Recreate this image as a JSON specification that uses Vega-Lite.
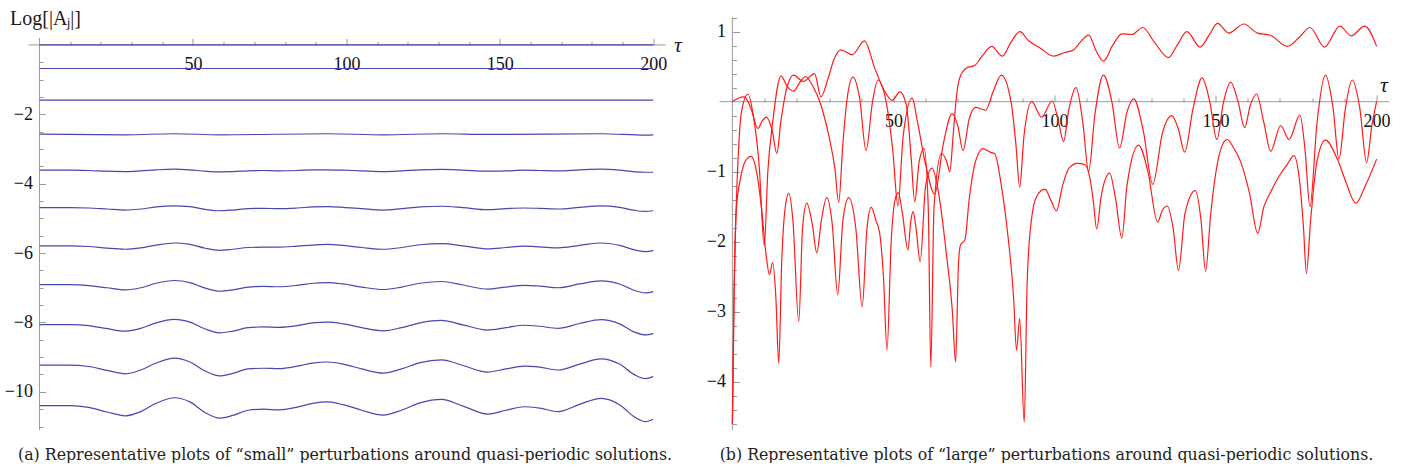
{
"$schema": "https://vega.github.io/schema/vega-lite/v6.json",
"padding": {"left": 3.5, "top": 8, "right": 5, "bottom": 0},
"background": "white",
"bounds": "flush",
"spacing": 54,
"config": {"view": {"stroke": null}, "font": "Liberation Serif",
  "axis": {"labelFont": "Liberation Serif", "labelFontSize": 18, "labelColor": "#111111", "tickColor": "#9a9a9a", "tickWidth": 1, "grid": false, "domain": false, "labelFlush": false, "labelOverlap": false, "labelBound": false}},
"datasets": {
"small": [
{"s":"j0","t":0,"v":0},{"s":"j0","t":200,"v":0},
{"s":"j1","t":0,"v":-0.68},{"s":"j1","t":200,"v":-0.68},
{"s":"j2","t":0,"v":-1.59},{"s":"j2","t":200,"v":-1.59},
{"s":"j3","t":0,"v":-2.57},{"s":"j3","t":28,"v":-2.59},{"s":"j3","t":44,"v":-2.56},{"s":"j3","t":58.7,"v":-2.59},{"s":"j3","t":94,"v":-2.56},{"s":"j3","t":112,"v":-2.59},{"s":"j3","t":131,"v":-2.56},{"s":"j3","t":146,"v":-2.58},{"s":"j3","t":183,"v":-2.56},{"s":"j3","t":197.5,"v":-2.6},{"s":"j3","t":200,"v":-2.59},
{"s":"j4","t":0,"v":-3.61},{"s":"j4","t":10,"v":-3.61},{"s":"j4","t":16,"v":-3.62},{"s":"j4","t":22,"v":-3.64},{"s":"j4","t":28,"v":-3.65},{"s":"j4","t":33,"v":-3.63},{"s":"j4","t":38,"v":-3.6},{"s":"j4","t":44,"v":-3.58},{"s":"j4","t":49,"v":-3.6},{"s":"j4","t":54,"v":-3.64},{"s":"j4","t":58.7,"v":-3.66},{"s":"j4","t":63,"v":-3.65},{"s":"j4","t":68,"v":-3.63},{"s":"j4","t":73,"v":-3.62},{"s":"j4","t":78,"v":-3.63},{"s":"j4","t":84,"v":-3.62},{"s":"j4","t":89,"v":-3.6},{"s":"j4","t":94,"v":-3.6},{"s":"j4","t":99,"v":-3.61},{"s":"j4","t":105,"v":-3.63},{"s":"j4","t":112,"v":-3.65},{"s":"j4","t":118,"v":-3.63},{"s":"j4","t":124,"v":-3.6},{"s":"j4","t":131,"v":-3.59},{"s":"j4","t":138,"v":-3.61},{"s":"j4","t":146,"v":-3.64},{"s":"j4","t":152,"v":-3.63},{"s":"j4","t":158,"v":-3.61},{"s":"j4","t":163,"v":-3.62},{"s":"j4","t":169,"v":-3.63},{"s":"j4","t":176,"v":-3.6},{"s":"j4","t":183,"v":-3.58},{"s":"j4","t":189,"v":-3.61},{"s":"j4","t":194,"v":-3.66},{"s":"j4","t":197.5,"v":-3.67},{"s":"j4","t":200,"v":-3.67},
{"s":"j5","t":0,"v":-4.69},{"s":"j5","t":10,"v":-4.69},{"s":"j5","t":16,"v":-4.7},{"s":"j5","t":22,"v":-4.73},{"s":"j5","t":28,"v":-4.76},{"s":"j5","t":33,"v":-4.73},{"s":"j5","t":38,"v":-4.67},{"s":"j5","t":44,"v":-4.64},{"s":"j5","t":49,"v":-4.66},{"s":"j5","t":54,"v":-4.74},{"s":"j5","t":58.7,"v":-4.78},{"s":"j5","t":63,"v":-4.76},{"s":"j5","t":68,"v":-4.72},{"s":"j5","t":73,"v":-4.71},{"s":"j5","t":78,"v":-4.72},{"s":"j5","t":84,"v":-4.7},{"s":"j5","t":89,"v":-4.67},{"s":"j5","t":94,"v":-4.66},{"s":"j5","t":99,"v":-4.68},{"s":"j5","t":105,"v":-4.72},{"s":"j5","t":112,"v":-4.76},{"s":"j5","t":118,"v":-4.72},{"s":"j5","t":124,"v":-4.67},{"s":"j5","t":131,"v":-4.65},{"s":"j5","t":138,"v":-4.69},{"s":"j5","t":146,"v":-4.75},{"s":"j5","t":152,"v":-4.72},{"s":"j5","t":158,"v":-4.7},{"s":"j5","t":163,"v":-4.71},{"s":"j5","t":169,"v":-4.73},{"s":"j5","t":176,"v":-4.68},{"s":"j5","t":183,"v":-4.64},{"s":"j5","t":189,"v":-4.68},{"s":"j5","t":194,"v":-4.77},{"s":"j5","t":197.5,"v":-4.8},{"s":"j5","t":200,"v":-4.78},
{"s":"j6","t":0,"v":-5.79},{"s":"j6","t":10,"v":-5.79},{"s":"j6","t":16,"v":-5.81},{"s":"j6","t":22,"v":-5.86},{"s":"j6","t":28,"v":-5.89},{"s":"j6","t":33,"v":-5.85},{"s":"j6","t":38,"v":-5.77},{"s":"j6","t":44,"v":-5.71},{"s":"j6","t":49,"v":-5.75},{"s":"j6","t":54,"v":-5.86},{"s":"j6","t":58.7,"v":-5.92},{"s":"j6","t":63,"v":-5.89},{"s":"j6","t":68,"v":-5.84},{"s":"j6","t":73,"v":-5.83},{"s":"j6","t":78,"v":-5.83},{"s":"j6","t":84,"v":-5.8},{"s":"j6","t":89,"v":-5.77},{"s":"j6","t":94,"v":-5.75},{"s":"j6","t":99,"v":-5.78},{"s":"j6","t":105,"v":-5.84},{"s":"j6","t":112,"v":-5.89},{"s":"j6","t":118,"v":-5.84},{"s":"j6","t":124,"v":-5.76},{"s":"j6","t":131,"v":-5.73},{"s":"j6","t":138,"v":-5.79},{"s":"j6","t":146,"v":-5.88},{"s":"j6","t":152,"v":-5.84},{"s":"j6","t":158,"v":-5.8},{"s":"j6","t":163,"v":-5.82},{"s":"j6","t":169,"v":-5.85},{"s":"j6","t":176,"v":-5.78},{"s":"j6","t":183,"v":-5.71},{"s":"j6","t":189,"v":-5.78},{"s":"j6","t":194,"v":-5.91},{"s":"j6","t":197.5,"v":-5.96},{"s":"j6","t":200,"v":-5.93},
{"s":"j7","t":0,"v":-6.91},{"s":"j7","t":10,"v":-6.91},{"s":"j7","t":16,"v":-6.94},{"s":"j7","t":22,"v":-7.0},{"s":"j7","t":28,"v":-7.06},{"s":"j7","t":33,"v":-7.0},{"s":"j7","t":38,"v":-6.87},{"s":"j7","t":44,"v":-6.79},{"s":"j7","t":49,"v":-6.85},{"s":"j7","t":54,"v":-7.01},{"s":"j7","t":58.7,"v":-7.1},{"s":"j7","t":63,"v":-7.06},{"s":"j7","t":68,"v":-6.98},{"s":"j7","t":73,"v":-6.96},{"s":"j7","t":78,"v":-6.97},{"s":"j7","t":84,"v":-6.93},{"s":"j7","t":89,"v":-6.87},{"s":"j7","t":94,"v":-6.85},{"s":"j7","t":99,"v":-6.89},{"s":"j7","t":105,"v":-6.98},{"s":"j7","t":112,"v":-7.05},{"s":"j7","t":118,"v":-6.98},{"s":"j7","t":124,"v":-6.87},{"s":"j7","t":131,"v":-6.82},{"s":"j7","t":138,"v":-6.92},{"s":"j7","t":146,"v":-7.04},{"s":"j7","t":152,"v":-6.98},{"s":"j7","t":158,"v":-6.93},{"s":"j7","t":163,"v":-6.95},{"s":"j7","t":169,"v":-7.0},{"s":"j7","t":176,"v":-6.89},{"s":"j7","t":183,"v":-6.8},{"s":"j7","t":189,"v":-6.89},{"s":"j7","t":194,"v":-7.08},{"s":"j7","t":197.5,"v":-7.15},{"s":"j7","t":200,"v":-7.11},
{"s":"j8","t":0,"v":-8.06},{"s":"j8","t":10,"v":-8.06},{"s":"j8","t":16,"v":-8.09},{"s":"j8","t":22,"v":-8.18},{"s":"j8","t":28,"v":-8.25},{"s":"j8","t":33,"v":-8.17},{"s":"j8","t":38,"v":-8.01},{"s":"j8","t":44,"v":-7.91},{"s":"j8","t":49,"v":-7.99},{"s":"j8","t":54,"v":-8.19},{"s":"j8","t":58.7,"v":-8.3},{"s":"j8","t":63,"v":-8.25},{"s":"j8","t":68,"v":-8.15},{"s":"j8","t":73,"v":-8.13},{"s":"j8","t":78,"v":-8.14},{"s":"j8","t":84,"v":-8.09},{"s":"j8","t":89,"v":-8.01},{"s":"j8","t":94,"v":-7.99},{"s":"j8","t":99,"v":-8.04},{"s":"j8","t":105,"v":-8.15},{"s":"j8","t":112,"v":-8.24},{"s":"j8","t":118,"v":-8.15},{"s":"j8","t":124,"v":-8.01},{"s":"j8","t":131,"v":-7.94},{"s":"j8","t":138,"v":-8.07},{"s":"j8","t":146,"v":-8.22},{"s":"j8","t":152,"v":-8.15},{"s":"j8","t":158,"v":-8.08},{"s":"j8","t":163,"v":-8.11},{"s":"j8","t":169,"v":-8.17},{"s":"j8","t":176,"v":-8.03},{"s":"j8","t":183,"v":-7.92},{"s":"j8","t":189,"v":-8.04},{"s":"j8","t":194,"v":-8.28},{"s":"j8","t":197.5,"v":-8.36},{"s":"j8","t":200,"v":-8.32},
{"s":"j9","t":0,"v":-9.23},{"s":"j9","t":10,"v":-9.23},{"s":"j9","t":16,"v":-9.27},{"s":"j9","t":22,"v":-9.38},{"s":"j9","t":28,"v":-9.48},{"s":"j9","t":33,"v":-9.37},{"s":"j9","t":38,"v":-9.17},{"s":"j9","t":44,"v":-9.03},{"s":"j9","t":49,"v":-9.14},{"s":"j9","t":54,"v":-9.4},{"s":"j9","t":58.7,"v":-9.54},{"s":"j9","t":63,"v":-9.47},{"s":"j9","t":68,"v":-9.34},{"s":"j9","t":73,"v":-9.32},{"s":"j9","t":78,"v":-9.33},{"s":"j9","t":84,"v":-9.26},{"s":"j9","t":89,"v":-9.17},{"s":"j9","t":94,"v":-9.14},{"s":"j9","t":99,"v":-9.2},{"s":"j9","t":105,"v":-9.34},{"s":"j9","t":112,"v":-9.46},{"s":"j9","t":118,"v":-9.34},{"s":"j9","t":124,"v":-9.16},{"s":"j9","t":131,"v":-9.08},{"s":"j9","t":138,"v":-9.24},{"s":"j9","t":146,"v":-9.43},{"s":"j9","t":152,"v":-9.34},{"s":"j9","t":158,"v":-9.26},{"s":"j9","t":163,"v":-9.29},{"s":"j9","t":169,"v":-9.37},{"s":"j9","t":176,"v":-9.2},{"s":"j9","t":183,"v":-9.05},{"s":"j9","t":189,"v":-9.2},{"s":"j9","t":194,"v":-9.51},{"s":"j9","t":197.5,"v":-9.62},{"s":"j9","t":200,"v":-9.56},
{"s":"j10","t":0,"v":-10.4},{"s":"j10","t":10,"v":-10.4},{"s":"j10","t":16,"v":-10.45},{"s":"j10","t":22,"v":-10.58},{"s":"j10","t":28,"v":-10.69},{"s":"j10","t":33,"v":-10.57},{"s":"j10","t":38,"v":-10.33},{"s":"j10","t":44,"v":-10.17},{"s":"j10","t":49,"v":-10.29},{"s":"j10","t":54,"v":-10.6},{"s":"j10","t":58.7,"v":-10.76},{"s":"j10","t":63,"v":-10.68},{"s":"j10","t":68,"v":-10.53},{"s":"j10","t":73,"v":-10.5},{"s":"j10","t":78,"v":-10.52},{"s":"j10","t":84,"v":-10.44},{"s":"j10","t":89,"v":-10.33},{"s":"j10","t":94,"v":-10.29},{"s":"j10","t":99,"v":-10.37},{"s":"j10","t":105,"v":-10.53},{"s":"j10","t":112,"v":-10.67},{"s":"j10","t":118,"v":-10.53},{"s":"j10","t":124,"v":-10.32},{"s":"j10","t":131,"v":-10.22},{"s":"j10","t":138,"v":-10.41},{"s":"j10","t":146,"v":-10.64},{"s":"j10","t":152,"v":-10.53},{"s":"j10","t":158,"v":-10.43},{"s":"j10","t":163,"v":-10.47},{"s":"j10","t":169,"v":-10.57},{"s":"j10","t":176,"v":-10.36},{"s":"j10","t":183,"v":-10.19},{"s":"j10","t":189,"v":-10.37},{"s":"j10","t":194,"v":-10.73},{"s":"j10","t":197.5,"v":-10.86},{"s":"j10","t":200,"v":-10.79}
],
"large": [
{"c":"1","t":0,"v":0},{"c":"1","t":1.8,"v":0.05},{"c":"1","t":3.7,"v":0.07},{"c":"1","t":5.8,"v":-0.1},{"c":"1","t":7.9,"v":-0.38},{"c":"1","t":9.3,"v":-0.27},{"c":"1","t":10.5,"v":-0.22},{"c":"1","t":12.3,"v":-0.4},{"c":"1","t":13.8,"v":-0.74},{"c":"1","t":15,"v":-0.3},{"c":"1","t":16.5,"v":0.12},{"c":"1","t":19,"v":0.38},{"c":"1","t":22,"v":0.29},{"c":"1","t":25.5,"v":0.4},{"c":"1","t":27.5,"v":0.07},{"c":"1","t":29.5,"v":0.3},{"c":"1","t":31.5,"v":0.6},{"c":"1","t":33.7,"v":0.74},{"c":"1","t":37.2,"v":0.67},{"c":"1","t":41,"v":0.87},{"c":"1","t":44.2,"v":0.48},{"c":"1","t":46.8,"v":0.19},{"c":"1","t":49.6,"v":0.02},{"c":"1","t":52,"v":0.14},{"c":"1","t":54,"v":-0.05},{"c":"1","t":55.5,"v":-0.8},{"c":"1","t":56.6,"v":-1.43},{"c":"1","t":58,"v":-0.85},{"c":"1","t":59.5,"v":-0.67},{"c":"1","t":60.8,"v":-1.5},{"c":"1","t":61.6,"v":-3.79},{"c":"1","t":62.6,"v":-1.5},{"c":"1","t":64.9,"v":-0.74},{"c":"1","t":66.5,"v":-0.85},{"c":"1","t":67.5,"v":-1.0},{"c":"1","t":68.5,"v":-0.5},{"c":"1","t":69.5,"v":0.05},{"c":"1","t":70.5,"v":0.33},{"c":"1","t":72.7,"v":0.48},{"c":"1","t":75.3,"v":0.52},{"c":"1","t":77.5,"v":0.65},{"c":"1","t":80.5,"v":0.79},{"c":"1","t":83.8,"v":0.65},{"c":"1","t":86.5,"v":0.85},{"c":"1","t":89.2,"v":1.0},{"c":"1","t":92,"v":0.87},{"c":"1","t":95.4,"v":0.77},{"c":"1","t":99.7,"v":0.65},{"c":"1","t":103,"v":0.7},{"c":"1","t":105.9,"v":0.74},{"c":"1","t":108,"v":0.85},{"c":"1","t":110.6,"v":0.95},{"c":"1","t":113,"v":0.72},{"c":"1","t":115.2,"v":0.58},{"c":"1","t":118,"v":0.8},{"c":"1","t":120.9,"v":0.97},{"c":"1","t":124,"v":0.96},{"c":"1","t":127.4,"v":1.06},{"c":"1","t":131,"v":0.85},{"c":"1","t":135.4,"v":0.63},{"c":"1","t":138,"v":0.8},{"c":"1","t":141.1,"v":1.0},{"c":"1","t":145.2,"v":0.78},{"c":"1","t":148,"v":0.95},{"c":"1","t":150.6,"v":1.12},{"c":"1","t":154.1,"v":0.98},{"c":"1","t":158.8,"v":1.11},{"c":"1","t":163,"v":0.98},{"c":"1","t":167,"v":0.95},{"c":"1","t":172.3,"v":0.79},{"c":"1","t":176,"v":0.92},{"c":"1","t":179.3,"v":1.06},{"c":"1","t":183.8,"v":0.78},{"c":"1","t":188.6,"v":1.08},{"c":"1","t":192.1,"v":0.94},{"c":"1","t":196.3,"v":1.08},{"c":"1","t":200,"v":0.79},
{"c":"2","t":0,"v":-4.6},{"c":"2","t":0.5,"v":-2.8},{"c":"2","t":1,"v":-1.8},{"c":"2","t":2,"v":-0.6},{"c":"2","t":3,"v":-0.1},{"c":"2","t":4.8,"v":0.11},{"c":"2","t":6.5,"v":-0.2},{"c":"2","t":8.3,"v":-0.9},{"c":"2","t":9.9,"v":-2.06},{"c":"2","t":11,"v":-1.0},{"c":"2","t":12.5,"v":-0.3},{"c":"2","t":15.1,"v":0.37},{"c":"2","t":17,"v":0.22},{"c":"2","t":19,"v":0.15},{"c":"2","t":21,"v":0.28},{"c":"2","t":22.7,"v":0.36},{"c":"2","t":25,"v":0.22},{"c":"2","t":27.5,"v":-0.05},{"c":"2","t":30,"v":-0.5},{"c":"2","t":31.8,"v":-0.95},{"c":"2","t":33,"v":-1.44},{"c":"2","t":34.3,"v":-0.6},{"c":"2","t":35.5,"v":0.0},{"c":"2","t":37.4,"v":0.35},{"c":"2","t":39.5,"v":0.05},{"c":"2","t":41.5,"v":-0.7},{"c":"2","t":43.5,"v":0.0},{"c":"2","t":45.2,"v":0.31},{"c":"2","t":47.5,"v":0.05},{"c":"2","t":49.8,"v":-0.7},{"c":"2","t":51.4,"v":-1.49},{"c":"2","t":53,"v":-0.5},{"c":"2","t":55.8,"v":0.05},{"c":"2","t":57.5,"v":-0.3},{"c":"2","t":60,"v":-0.9},{"c":"2","t":62.8,"v":-1.32},{"c":"2","t":65.5,"v":-0.6},{"c":"2","t":68.2,"v":-0.17},{"c":"2","t":70,"v":-0.35},{"c":"2","t":71.6,"v":-0.7},{"c":"2","t":73.5,"v":-0.25},{"c":"2","t":75.5,"v":-0.08},{"c":"2","t":78.6,"v":-0.12},{"c":"2","t":81,"v":0.15},{"c":"2","t":83.5,"v":0.38},{"c":"2","t":86.5,"v":0.0},{"c":"2","t":88,"v":-0.6},{"c":"2","t":89.2,"v":-1.22},{"c":"2","t":90.5,"v":-0.5},{"c":"2","t":92.9,"v":0.0},{"c":"2","t":96,"v":-0.22},{"c":"2","t":99.3,"v":0.01},{"c":"2","t":101.3,"v":-0.3},{"c":"2","t":102.8,"v":-0.57},{"c":"2","t":104.5,"v":-0.1},{"c":"2","t":106.7,"v":0.2},{"c":"2","t":108.8,"v":-0.3},{"c":"2","t":110.6,"v":-1.0},{"c":"2","t":112.5,"v":-0.2},{"c":"2","t":115.2,"v":0.38},{"c":"2","t":117.8,"v":0.0},{"c":"2","t":120.2,"v":-0.66},{"c":"2","t":122.5,"v":-0.15},{"c":"2","t":124.6,"v":0.04},{"c":"2","t":127.5,"v":-0.4},{"c":"2","t":130.5,"v":-1.18},{"c":"2","t":133.5,"v":-0.45},{"c":"2","t":136.4,"v":-0.2},{"c":"2","t":138.5,"v":-0.4},{"c":"2","t":140.4,"v":-0.72},{"c":"2","t":143,"v":-0.1},{"c":"2","t":145.8,"v":0.34},{"c":"2","t":148.2,"v":0.0},{"c":"2","t":150.4,"v":-0.54},{"c":"2","t":152.5,"v":0.0},{"c":"2","t":154.7,"v":0.28},{"c":"2","t":157,"v":0.0},{"c":"2","t":159,"v":-0.37},{"c":"2","t":160.8,"v":-0.05},{"c":"2","t":162.7,"v":0.11},{"c":"2","t":165,"v":-0.3},{"c":"2","t":167.1,"v":-0.71},{"c":"2","t":170.2,"v":-0.34},{"c":"2","t":172.8,"v":-0.54},{"c":"2","t":176.2,"v":-0.19},{"c":"2","t":177.8,"v":-0.7},{"c":"2","t":179.3,"v":-1.5},{"c":"2","t":181.5,"v":-0.3},{"c":"2","t":184.1,"v":0.38},{"c":"2","t":186.5,"v":-0.1},{"c":"2","t":188.3,"v":-0.82},{"c":"2","t":190.3,"v":-0.1},{"c":"2","t":192.4,"v":0.31},{"c":"2","t":194.8,"v":-0.1},{"c":"2","t":196.9,"v":-0.87},{"c":"2","t":198.5,"v":-0.35},{"c":"2","t":200,"v":0.0},
{"c":"3","t":0,"v":-4.6},{"c":"3","t":0.6,"v":-2.5},{"c":"3","t":1.2,"v":-1.55},{"c":"3","t":2.5,"v":-1.1},{"c":"3","t":4,"v":-0.85},{"c":"3","t":5.8,"v":-0.78},{"c":"3","t":7.5,"v":-1.0},{"c":"3","t":9,"v":-1.5},{"c":"3","t":10.5,"v":-2.2},{"c":"3","t":11.5,"v":-2.47},{"c":"3","t":12.5,"v":-2.3},{"c":"3","t":13.5,"v":-2.8},{"c":"3","t":14.4,"v":-3.74},{"c":"3","t":15.3,"v":-2.3},{"c":"3","t":16.3,"v":-1.55},{"c":"3","t":17.5,"v":-1.31},{"c":"3","t":18.8,"v":-1.7},{"c":"3","t":20.6,"v":-3.14},{"c":"3","t":21.8,"v":-1.8},{"c":"3","t":23.1,"v":-1.45},{"c":"3","t":24.8,"v":-1.75},{"c":"3","t":26.2,"v":-2.16},{"c":"3","t":27.6,"v":-1.7},{"c":"3","t":29.3,"v":-1.37},{"c":"3","t":31,"v":-1.75},{"c":"3","t":32.7,"v":-2.76},{"c":"3","t":34.3,"v":-1.7},{"c":"3","t":36.1,"v":-1.37},{"c":"3","t":38.3,"v":-1.8},{"c":"3","t":40.3,"v":-2.93},{"c":"3","t":41.8,"v":-1.8},{"c":"3","t":43.1,"v":-1.51},{"c":"3","t":44.6,"v":-1.7},{"c":"3","t":45.7,"v":-1.87},{"c":"3","t":46.9,"v":-2.5},{"c":"3","t":48,"v":-3.55},{"c":"3","t":49.3,"v":-2.0},{"c":"3","t":50.5,"v":-1.4},{"c":"3","t":51.5,"v":-1.3},{"c":"3","t":52.8,"v":-1.6},{"c":"3","t":54.5,"v":-2.12},{"c":"3","t":55.4,"v":-1.7},{"c":"3","t":56.1,"v":-1.57},{"c":"3","t":57,"v":-1.8},{"c":"3","t":58.3,"v":-2.29},{"c":"3","t":60,"v":-1.2},{"c":"3","t":62,"v":-0.95},{"c":"3","t":64,"v":-1.3},{"c":"3","t":66.5,"v":-2.2},{"c":"3","t":68.3,"v":-3.0},{"c":"3","t":69.3,"v":-3.72},{"c":"3","t":70.2,"v":-2.3},{"c":"3","t":70.8,"v":-2.05},{"c":"3","t":72.2,"v":-1.97},{"c":"3","t":73.5,"v":-1.4},{"c":"3","t":75.5,"v":-0.85},{"c":"3","t":77.8,"v":-0.67},{"c":"3","t":80,"v":-0.72},{"c":"3","t":81.4,"v":-0.74},{"c":"3","t":83.5,"v":-1.2},{"c":"3","t":85.5,"v":-1.9},{"c":"3","t":87.3,"v":-2.8},{"c":"3","t":88.2,"v":-3.55},{"c":"3","t":89.2,"v":-3.1},{"c":"3","t":90.6,"v":-4.58},{"c":"3","t":91.5,"v":-2.6},{"c":"3","t":92.8,"v":-1.7},{"c":"3","t":94.5,"v":-1.35},{"c":"3","t":97,"v":-1.25},{"c":"3","t":99,"v":-1.42},{"c":"3","t":100.6,"v":-1.56},{"c":"3","t":102.5,"v":-1.2},{"c":"3","t":104.5,"v":-0.95},{"c":"3","t":107,"v":-0.88},{"c":"3","t":109.5,"v":-0.9},{"c":"3","t":110.8,"v":-1.05},{"c":"3","t":112,"v":-1.4},{"c":"3","t":113.1,"v":-1.82},{"c":"3","t":114.5,"v":-1.35},{"c":"3","t":117.1,"v":-1.02},{"c":"3","t":119,"v":-1.4},{"c":"3","t":120.9,"v":-1.95},{"c":"3","t":122.5,"v":-1.2},{"c":"3","t":126.1,"v":-0.62},{"c":"3","t":129,"v":-1.0},{"c":"3","t":132,"v":-1.72},{"c":"3","t":133.5,"v":-1.55},{"c":"3","t":135,"v":-1.49},{"c":"3","t":136.8,"v":-1.8},{"c":"3","t":138.5,"v":-2.41},{"c":"3","t":140.5,"v":-1.6},{"c":"3","t":143.7,"v":-1.27},{"c":"3","t":145.5,"v":-1.7},{"c":"3","t":146.9,"v":-2.42},{"c":"3","t":148.5,"v":-1.6},{"c":"3","t":150.5,"v":-0.9},{"c":"3","t":152.5,"v":-0.58},{"c":"3","t":153.6,"v":-0.54},{"c":"3","t":155.5,"v":-0.65},{"c":"3","t":157.8,"v":-0.86},{"c":"3","t":160.5,"v":-1.3},{"c":"3","t":163.1,"v":-1.88},{"c":"3","t":165,"v":-1.5},{"c":"3","t":167,"v":-1.3},{"c":"3","t":170.2,"v":-1.03},{"c":"3","t":172.2,"v":-0.9},{"c":"3","t":174.3,"v":-0.77},{"c":"3","t":176,"v":-1.1},{"c":"3","t":177.3,"v":-1.8},{"c":"3","t":178.2,"v":-2.45},{"c":"3","t":179.5,"v":-1.7},{"c":"3","t":181.5,"v":-0.85},{"c":"3","t":184.1,"v":-0.55},{"c":"3","t":187.8,"v":-0.82},{"c":"3","t":190.5,"v":-1.15},{"c":"3","t":193.5,"v":-1.45},{"c":"3","t":196.5,"v":-1.2},{"c":"3","t":200,"v":-0.82}
]
},
"hconcat": [
{
"width": 637, "height": 413,
"title": {"text": "(a) Representative plots of “small” perturbations around quasi-periodic solutions.", "orient": "bottom", "font": "DejaVu Serif", "fontSize": 15.8, "fontWeight": "normal", "color": "#222222", "anchor": "middle", "offset": 17, "dx": -2},
"layer": [
{"data": {"values": [{}]}, "mark": {"type": "rule", "color": "#9a9a9a", "strokeWidth": 1},
 "encoding": {
  "x": {"datum": -3.6, "type": "quantitative", "axis": {"orient": "top", "offset": -28.3, "values": [10,20,30,40,60,70,80,90,110,120,130,140,160,170,180,190], "tickSize": 4, "labels": false, "title": null}},
  "x2": {"datum": 204},
  "y": {"datum": 0, "type": "quantitative", "axis": null}}},
{"data": {"values": [{}]}, "mark": {"type": "rule", "color": "#9a9a9a", "strokeWidth": 1},
 "encoding": {
  "x": {"datum": 0, "type": "quantitative", "axis": null},
  "y": {"datum": -11.1, "type": "quantitative", "axis": {"orient": "right", "offset": -626, "values": [-11,-10.5,-9.5,-9,-8.5,-7.5,-7,-6.5,-5.5,-5,-4.5,-3.5,-3,-2.5,-1.5,-1,-0.5], "tickSize": 3.5, "labels": false, "title": null}},
  "y2": {"datum": 0.2}}},
{"data": {"name": "small"}, "mark": {"type": "line", "interpolate": "monotone", "color": "#4848b0", "strokeWidth": 1.2},
 "encoding": {
  "x": {"field": "t", "type": "quantitative", "scale": {"domain": [-3.6, 204], "nice": false, "zero": false},
        "axis": {"orient": "top", "offset": -28.3, "values": [50,100,150,200], "tickSize": 7, "labelFont": "Liberation Serif", "labelFontSize": 18, "labelBaseline": "alphabetic", "labelPadding": -31.5,
                 "title": "τ", "titleFont": "Liberation Serif", "titleFontStyle": "italic", "titleFontWeight": "normal", "titleFontSize": 22, "titleColor": "#1a1a1a", "titleX": 649, "titleY": -1, "titleAlign": "center", "titleBaseline": "middle", "titleAngle": 0}},
  "y": {"field": "v", "type": "quantitative", "scale": {"domain": [-11.1, 0.805], "nice": false, "zero": false},
        "axis": {"orient": "right", "offset": -626, "values": [-10,-8,-6,-4,-2], "tickSize": 6, "labelFont": "Liberation Serif", "labelFontSize": 18, "labelAlign": "right", "labelBaseline": "middle", "labelPadding": -13,
                 "title": "Log[|Aⱼ|]", "titleFont": "Liberation Serif", "titleFontSize": 20, "titleFontWeight": "normal", "titleColor": "#1a1a1a", "titleAngle": 0, "titleAlign": "left", "titleBaseline": "alphabetic", "titleX": -30, "titleY": 7.5}},
  "detail": {"field": "s", "type": "nominal"}}}
],
"resolve": {"axis": {"x": "independent", "y": "independent"}}
},
{
"width": 670, "height": 413,
"title": {"text": "(b) Representative plots of “large” perturbations around quasi-periodic solutions.", "orient": "bottom", "font": "DejaVu Serif", "fontSize": 15.8, "fontWeight": "normal", "color": "#222222", "anchor": "middle", "offset": 17, "dx": -8},
"layer": [
{"data": {"values": [{}]}, "mark": {"type": "rule", "color": "#9a9a9a", "strokeWidth": 1},
 "encoding": {
  "x": {"datum": -4, "type": "quantitative", "axis": {"orient": "top", "offset": -85, "values": [10,20,30,40,60,70,80,90,110,120,130,140,160,170,180,190], "tickSize": 4, "labels": false, "title": null}},
  "x2": {"datum": 204},
  "y": {"datum": 0, "type": "quantitative", "axis": null}}},
{"data": {"values": [{}]}, "mark": {"type": "rule", "color": "#9a9a9a", "strokeWidth": 1},
 "encoding": {
  "x": {"datum": 0, "type": "quantitative", "axis": null},
  "y": {"datum": -4.69, "type": "quantitative", "axis": {"orient": "right", "offset": -657, "values": [-4.6,-4.4,-4.2,-3.8,-3.6,-3.4,-3.2,-2.8,-2.6,-2.4,-2.2,-1.8,-1.6,-1.4,-1.2,-0.8,-0.6,-0.4,-0.2,0.2,0.4,0.6,0.8,1.2], "tickSize": 4, "labels": false, "title": null}},
  "y2": {"datum": 1.21}}},
{"data": {"name": "large"}, "mark": {"type": "line", "interpolate": "monotone", "color": "#ff1a1a", "strokeWidth": 1.2},
 "encoding": {
  "x": {"field": "t", "type": "quantitative", "scale": {"domain": [-4, 204], "nice": false, "zero": false},
        "axis": {"orient": "top", "offset": -85, "values": [50,100,150,200], "tickSize": 7, "labelFont": "Liberation Serif", "labelFontSize": 18, "labelBaseline": "alphabetic", "labelPadding": -31.5,
                 "title": "τ", "titleFont": "Liberation Serif", "titleFontStyle": "italic", "titleFontWeight": "normal", "titleFontSize": 22, "titleColor": "#1a1a1a", "titleX": 664, "titleY": -18, "titleAlign": "center", "titleBaseline": "middle", "titleAngle": 0}},
  "y": {"field": "v", "type": "quantitative", "scale": {"domain": [-4.69, 1.21], "nice": false, "zero": false},
        "axis": {"orient": "right", "offset": -657, "values": [-4,-3,-2,-1,1], "tickSize": 7, "labelFont": "Liberation Serif", "labelFontSize": 18, "labelAlign": "right", "labelBaseline": "middle", "labelPadding": -14, "title": null}},
  "detail": {"field": "c", "type": "nominal"}}}
],
"resolve": {"axis": {"x": "independent", "y": "independent"}}
}
]
}
